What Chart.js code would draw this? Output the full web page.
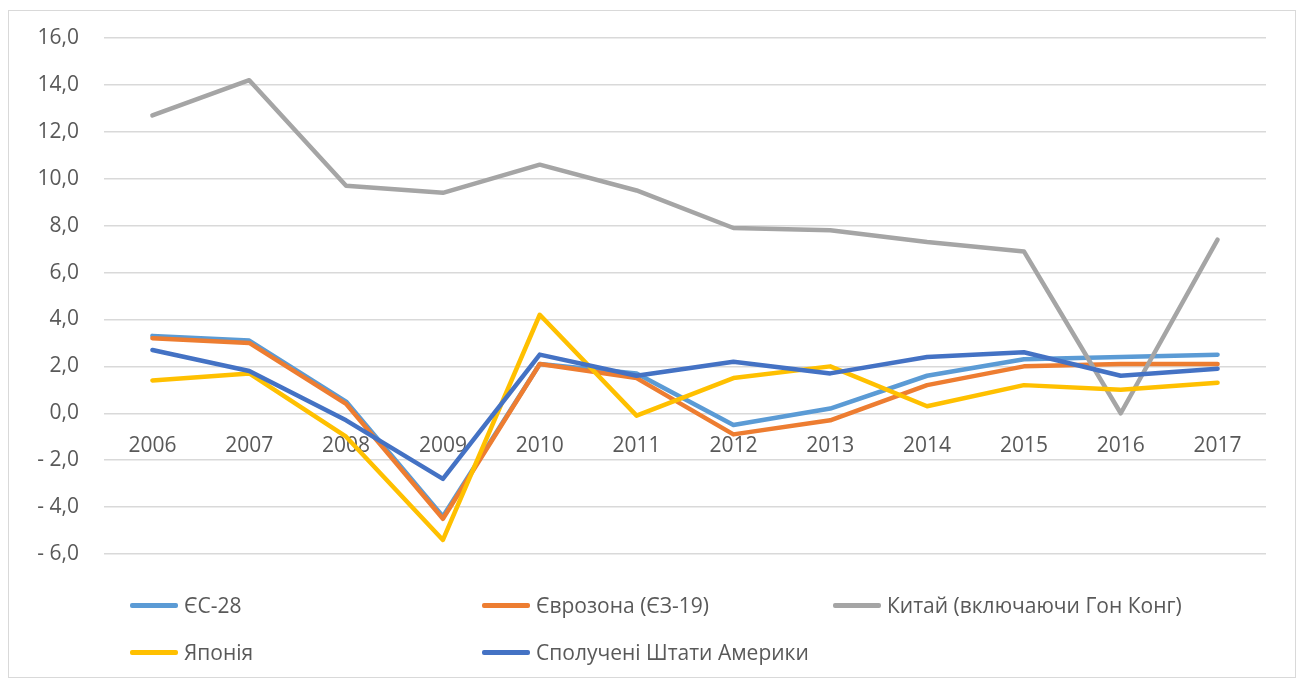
<!DOCTYPE html>
<html>
<head>
<meta charset="utf-8">
<script src="https://cdn.jsdelivr.net/npm/chart.js@4"></script>
<style>
  body { margin: 0; background: #fff; }
  #wrap { position: relative; width: 1300px; height: 682px; overflow: hidden; }
  #frame { position: absolute; left: 8px; top: 10px; width: 1286px; height: 666px; border: 1.5px solid #d9d9d9; }
  #chart { position: absolute; left: 0; top: 0; }
  .legend-item { position: absolute; display: flex; align-items: center; font-family: "Open Sans", sans-serif; font-size: 21px; color: #595959; white-space: nowrap; }
  .legend-item span.mark { display: inline-block; width: 48px; height: 5px; border-radius: 2px; margin-right: 6px; }
</style>
</head>
<body>
<div id="wrap">
  <div id="frame"></div>
  <canvas id="chart" width="1300" height="682"></canvas>
  <div id="legend"></div>
</div>
<script>
// =========================
// 데이터
// =========================
const years = ["2006", "2007", "2008", "2009", "2010", "2011", "2012", "2013", "2014", "2015", "2016", "2017"];

const seriesNames = [
  "ЄС-28",
  "Єврозона (ЄЗ-19)",
  "Китай (включаючи Гон Конг)",
  "Японія",
  "Сполучені Штати Америки",
];

const eu28 = [3.3, 3.1, 0.5, -4.4, 2.1, 1.7, -0.5, 0.2, 1.6, 2.3, 2.4, 2.5];
const euroArea = [3.2, 3.0, 0.4, -4.5, 2.1, 1.5, -0.9, -0.3, 1.2, 2.0, 2.1, 2.1];
const china = [12.7, 14.2, 9.7, 9.4, 10.6, 9.5, 7.9, 7.8, 7.3, 6.9, 0.0, 7.4];
const japan = [1.4, 1.7, -1.0, -5.4, 4.2, -0.1, 1.5, 2.0, 0.3, 1.2, 1.0, 1.3];
const usa = [2.7, 1.8, -0.3, -2.8, 2.5, 1.6, 2.2, 1.7, 2.4, 2.6, 1.6, 1.9];

const seriesColors = ["#5B9BD5", "#ED7D31", "#A5A5A5", "#FFC000", "#4472C4"];

const yMin = -6;
const yMax = 16;
const yStep = 2;

// =========================
// 공통 설정
// =========================
const FONT = "'Open Sans', sans-serif";
const TEXT_COLOR = "#595959";

function formatTick(value) {
  const text = Math.abs(value).toFixed(1).replace(".", ",");
  return value < 0 ? "- " + text : text;
}

// =========================
// 범례 (엑셀처럼 3열 그리드)
// =========================
function renderLegend() {
  const legend = document.querySelector("#legend");
  const slots = [
    { left: 130, top: 605 },
    { left: 482, top: 605 },
    { left: 833, top: 605 },
    { left: 130, top: 652 },
    { left: 482, top: 652 },
  ];

  legend.innerHTML = seriesNames
    .map((name, i) => `
      <div class="legend-item" style="left:${slots[i].left}px; top:${slots[i].top - 14}px; height:28px;">
        <span class="mark" style="background:${seriesColors[i]}"></span>${name}
      </div>`)
    .join("");
}

// =========================
// 차트 렌더링
// =========================
function renderChart() {
  const ctx = document.querySelector("#chart").getContext("2d");
  const values = [eu28, euroArea, china, japan, usa];

  new Chart(ctx, {
    type: "line",
    data: {
      labels: years,
      datasets: values.map((data, i) => ({
        label: seriesNames[i],
        data,
        borderColor: seriesColors[i],
        backgroundColor: seriesColors[i],
        borderWidth: 4.5,
        borderJoinStyle: "round",
        borderCapStyle: "round",
        pointRadius: 0,
        tension: 0,
        // 엑셀처럼 뒤 계열이 위에 그려지도록
        order: values.length - i,
      })),
    },
    options: {
      responsive: false,
      animation: false,
      devicePixelRatio: 1,
      layout: {
        padding: { top: 38, right: 34, bottom: 128, left: 0 },
      },
      plugins: {
        legend: { display: false },
        tooltip: { enabled: false },
      },
      scales: {
        y: {
          min: yMin,
          max: yMax,
          afterFit: (scale) => {
            scale.width = 104;
          },
          ticks: {
            stepSize: yStep,
            color: TEXT_COLOR,
            font: { family: FONT, size: 21 },
            padding: 25,
            callback: (value) => formatTick(value),
          },
          grid: {
            color: "#d9d9d9",
            lineWidth: 1.5,
            drawTicks: false,
          },
          border: { display: false },
        },
        x: {
          position: { y: 0 },
          offset: true,
          ticks: {
            color: TEXT_COLOR,
            font: { family: FONT, size: 21 },
            padding: 20,
            maxRotation: 0,
            autoSkip: false,
          },
          grid: { display: false, drawTicks: false },
          border: { display: false },
        },
      },
    },
  });
}

renderLegend();
renderChart();
</script>
</body>
</html>
